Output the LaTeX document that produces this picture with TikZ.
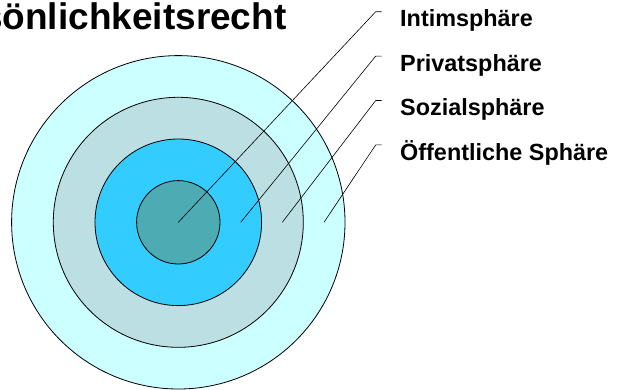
\documentclass[tikz,border=0pt]{standalone}
\usepackage{fontspec}
\setmainfont{Liberation Sans}

\definecolor{oeffentlich}{HTML}{CCFFFF}
\definecolor{sozial}{HTML}{BBDFE2}
\definecolor{privat}{HTML}{33CCFF}
\definecolor{intim}{HTML}{4DABB3}

\begin{document}
\begin{tikzpicture}[x=1pt, y=-1pt,
    ring/.style={draw=black, line width=0.8pt},
    leader/.style={draw=black, line width=0.6pt},
    label/.style={anchor=base west, inner sep=0pt, font=\fontsize{23.4}{28}\selectfont\bfseries}]
  \useasboundingbox (0,0) rectangle (617,389);
  \clip (0,0) rectangle (617,389);

  \coordinate (M) at (178.3, 222.3);

  \draw[ring, fill=oeffentlich] (M) circle[radius=166.7];
  \draw[ring, fill=sozial] (M) circle[radius=125];
  \draw[ring, fill=privat] (M) circle[radius=83.3];
  \draw[ring, fill=intim] (M) circle[radius=41.7];

  \node[anchor=base east, inner sep=0pt, font=\fontsize{37}{44}\selectfont\bfseries]
    (T) at (286.7, 29.3) {Persönlichkeitsrecht};

  \node[label] (L1) at (400, 26.7) {Intimsphäre};
  \node[label] (L2) at (400, 71.2) {Privatsphäre};
  \node[label] (L3) at (400, 115.8) {Sozialsphäre};
  \node[label] (L4) at (400, 160.4) {Öffentliche Sphäre};

  \coordinate (P1) at (178.3, 222.3);
  \coordinate (P2) at (240.7, 222.3);
  \coordinate (P3) at (282.3, 222.3);
  \coordinate (P4) at (324, 222.3);

  \coordinate (K1) at (375.7, 11.7);
  \coordinate (K2) at (375.7, 56.1);
  \coordinate (K3) at (375.7, 100.5);
  \coordinate (K4) at (375.7, 144.9);

  \draw[leader] (P1) -- (K1) -- ++(6,0);
  \draw[leader] (P2) -- (K2) -- ++(6,0);
  \draw[leader] (P3) -- (K3) -- ++(6,0);
  \draw[leader] (P4) -- (K4) -- ++(6,0);
\end{tikzpicture}
\end{document}
